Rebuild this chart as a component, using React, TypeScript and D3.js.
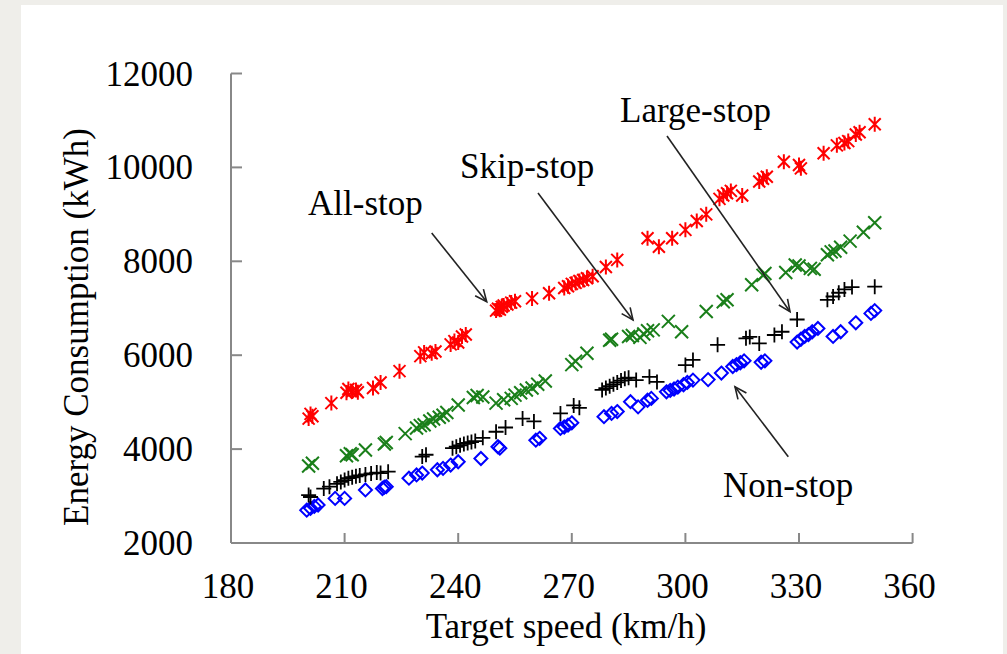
import React from "react";
import * as d3 from "d3";

// ---- data (speed km/h, energy kWh) ----
const allStop: [number, number][] = [
  [200.5, 4650], [201, 4750], [201.5, 4700], [206.5, 4980], [210.5, 5200], [211, 5280], [212, 5230], [213, 5260], [213.5, 5210],
  [217.5, 5300], [219.5, 5420], [224.5, 5660], [230, 5980], [231, 6060], [233, 6040], [234, 6080], [238, 6230], [239, 6300],
  [240, 6270], [241, 6400], [242, 6440], [250, 6950], [250.5, 6990], [251, 6970], [251.5, 7030], [252, 7060], [253, 7080],
  [254, 7120], [255, 7150], [259.5, 7210], [264, 7320], [268, 7430], [269, 7470], [270, 7520], [271, 7540], [272, 7580],
  [273, 7600], [274, 7640], [275.5, 7680], [279, 7880], [282, 8030], [290, 8490], [293, 8310], [296.5, 8490], [300, 8670],
  [303, 8860], [305.5, 9000], [309, 9330], [310, 9400], [311, 9450], [312, 9500], [315, 9400], [319.5, 9700], [320.5, 9760],
  [321.5, 9800], [326, 10120], [330, 10050], [330.5, 9980], [336.5, 10300], [340, 10470], [342, 10520], [343, 10560],
  [345, 10700], [346, 10750], [350, 10920],
];

const skipStop: [number, number][] = [
  [200.5, 3640], [201.5, 3700], [210.5, 3860], [211.5, 3900], [212, 3880], [215.5, 3980], [220.5, 4110], [221, 4140],
  [226, 4330], [229, 4450], [230, 4500], [231, 4520], [232.5, 4600], [233.5, 4640], [235, 4680], [236, 4720], [237, 4780],
  [240, 4940], [244, 5100], [245, 5140], [246.5, 5110], [250, 4980], [252, 5050], [254, 5080], [255, 5150], [256.5, 5200],
  [258, 5260], [259.5, 5300], [261, 5380], [263, 5450], [270, 5800], [271, 5870], [274, 6040], [280, 6320], [280.5, 6340],
  [285, 6400], [286, 6420], [288, 6380], [289, 6450], [290, 6520], [291.5, 6540], [295.5, 6720], [299, 6500], [305.5, 6930],
  [310, 7140], [311, 7180], [317.5, 7500], [320.5, 7700], [321, 7740], [326.5, 7760], [329, 7920], [330, 7900], [333, 7850],
  [334, 7830], [337.5, 8140], [338.5, 8200], [339.5, 8220], [341, 8300], [343.5, 8430], [347, 8620], [350, 8820],
];

const largeStop: [number, number][] = [
  [200.5, 3020], [201, 2980], [204.5, 3160], [206, 3200], [208, 3260], [209, 3300], [210, 3340], [211, 3380], [212, 3400],
  [213, 3420], [214, 3440], [215.5, 3460], [217, 3480], [218.5, 3500], [219.5, 3490], [221.5, 3520], [230.5, 3840],
  [231.5, 3880], [238.5, 4020], [239.5, 4050], [240.5, 4080], [241.5, 4110], [242.5, 4130], [243.5, 4150], [244.5, 4170],
  [246.5, 4240], [250, 4370], [252.5, 4460], [257, 4650], [260, 4590], [267, 4760], [270.5, 4930], [272, 4880], [278, 5260],
  [279, 5300], [280, 5340], [281, 5380], [282, 5420], [283, 5460], [284, 5500], [285, 5520], [287, 5470], [290.5, 5540],
  [292.5, 5430], [300, 5790], [302, 5900], [308.5, 6220], [316, 6360], [317, 6390], [319.5, 6250], [323.5, 6430],
  [325.5, 6500], [329.5, 6760], [337.5, 7180], [339, 7250], [340.5, 7330], [342, 7400], [344, 7450], [350, 7460],
];

const nonStop: [number, number][] = [
  [200, 2700], [201, 2740], [202, 2780], [203, 2810], [207.5, 2950], [210, 2950], [215.5, 3130], [220, 3160], [220.5, 3190],
  [221, 3200], [227, 3380], [229, 3450], [230.5, 3490], [234.5, 3560], [236, 3590], [238, 3660], [240, 3730], [246, 3800],
  [250.5, 4050], [251, 4020], [260.5, 4190], [261.5, 4230], [267, 4440], [268, 4470], [269, 4510], [270, 4560], [278.5, 4690],
  [280.5, 4760], [282, 4800], [285.5, 5010], [287.5, 4900], [290, 5040], [291, 5080], [295, 5220], [296, 5250], [297, 5280],
  [298, 5320], [299.5, 5370], [300.5, 5420], [302, 5470], [306, 5480], [309.5, 5620], [312.5, 5760], [313.5, 5800],
  [314.5, 5840], [315.5, 5880], [320, 5850], [321, 5880], [329.5, 6280], [330.5, 6340], [331.5, 6400], [332.5, 6440],
  [333.5, 6500], [335, 6570], [339, 6400], [341, 6500], [345, 6690], [349, 6890], [350, 6950],
];

const xTicks = [180, 210, 240, 270, 300, 330, 360];
const yTicks = [2000, 4000, 6000, 8000, 10000, 12000];

const annotations = [
  { label: "All-stop", lx: 308, ly: 215, from: [431.7, 233], to: [486.7, 301.7] },
  { label: "Skip-stop", lx: 460, ly: 178, from: [538, 193], to: [633, 320] },
  { label: "Large-stop", lx: 620, ly: 122, from: [667, 136], to: [790, 311.7] },
  { label: "Non-stop", lx: 723, ly: 497, from: [788.3, 456.7], to: [735, 386.7] },
];

const FONT = "'Liberation Serif', 'Times New Roman', serif";

export default function App() {
  const W = 1007, H = 654;
  const x = d3.scaleLinear().domain([180, 360]).range([231, 912.6]);
  const y = d3.scaleLinear().domain([2000, 12000]).range([543, 73.5]);

  const star = (cx: number, cy: number) => {
    const p = d3.path();
    const s = 6, v = 7.5;
    p.moveTo(cx - s, cy - s); p.lineTo(cx + s, cy + s);
    p.moveTo(cx - s, cy + s); p.lineTo(cx + s, cy - s);
    p.moveTo(cx, cy - v); p.lineTo(cx, cy + v);
    return p.toString();
  };
  const cross = (cx: number, cy: number) => {
    const p = d3.path();
    const s = 6.5;
    p.moveTo(cx - s, cy - s); p.lineTo(cx + s, cy + s);
    p.moveTo(cx - s, cy + s); p.lineTo(cx + s, cy - s);
    return p.toString();
  };
  const plus = (cx: number, cy: number) => {
    const p = d3.path();
    const s = 7.5;
    p.moveTo(cx - s, cy); p.lineTo(cx + s, cy);
    p.moveTo(cx, cy - s); p.lineTo(cx, cy + s);
    return p.toString();
  };
  const diamond = (cx: number, cy: number) => {
    const p = d3.path();
    const s = 6.5;
    p.moveTo(cx, cy - s); p.lineTo(cx + s, cy); p.lineTo(cx, cy + s); p.lineTo(cx - s, cy); p.closePath();
    return p.toString();
  };

  const series = [
    { data: nonStop, shape: diamond, color: "#0000ff", sw: 2 },
    { data: largeStop, shape: plus, color: "#000000", sw: 1.8 },
    { data: skipStop, shape: cross, color: "#1a7f1a", sw: 2 },
    { data: allStop, shape: star, color: "#ff0000", sw: 2 },
  ];

  const arrowHead = (from: number[], to: number[]) => {
    const ang = Math.atan2(to[1] - from[1], to[0] - from[0]);
    const L = 13, a = 0.42;
    const p = d3.path();
    p.moveTo(to[0] - L * Math.cos(ang - a), to[1] - L * Math.sin(ang - a));
    p.lineTo(to[0], to[1]);
    p.lineTo(to[0] - L * Math.cos(ang + a), to[1] - L * Math.sin(ang + a));
    return p.toString();
  };

  return (
    <svg width={W} height={H} style={{ position: "absolute", left: 0, top: 0, display: "block" }}
      fontFamily={FONT}>
      <rect x={0} y={0} width={W} height={H} fill="#efeeea" />
      <rect x={21} y={5} width={982} height={H - 5} fill="#ffffff" />

      {/* axes */}
      <g stroke="#888888" strokeWidth={2} fill="none">
        <line x1={x(180)} y1={y(12000)} x2={x(180)} y2={y(2000)} />
        <line x1={x(180)} y1={y(2000)} x2={x(360)} y2={y(2000)} />
        {yTicks.map((t) => (
          <line key={"yt" + t} x1={x(180)} x2={x(180) + 11} y1={y(t)} y2={y(t)} />
        ))}
        {xTicks.map((t) => (
          <line key={"xt" + t} x1={x(t)} x2={x(t)} y1={y(2000)} y2={y(2000) - 10} />
        ))}
      </g>
      <g fontSize={35} fill="#000">
        {yTicks.map((t) => (
          <text key={"yl" + t} x={193} y={y(t) + 12} textAnchor="end">{t}</text>
        ))}
        {xTicks.map((t) => (
          <text key={"xl" + t} x={x(t) - 3} y={598} textAnchor="middle">{t}</text>
        ))}
        <text x={566} y={638} textAnchor="middle">Target speed (km/h)</text>
        <text transform="translate(88,327) rotate(-90)" textAnchor="middle">Energy Consumption (kWh)</text>
      </g>

      {/* markers */}
      {series.map((s, i) => (
        <g key={i} stroke={s.color} strokeWidth={s.sw} fill="none">
          {s.data.map((d, j) => (
            <path key={j} d={s.shape(x(d[0]), y(d[1]))} />
          ))}
        </g>
      ))}

      {/* annotations */}
      {annotations.map((a) => (
        <g key={a.label}>
          <text x={a.lx} y={a.ly} fontSize={35} fill="#000">{a.label}</text>
          <line x1={a.from[0]} y1={a.from[1]} x2={a.to[0]} y2={a.to[1]} stroke="#222" strokeWidth={1.6} />
          <path d={arrowHead(a.from, a.to)} stroke="#222" strokeWidth={1.6} fill="none" />
        </g>
      ))}
    </svg>
  );
}
